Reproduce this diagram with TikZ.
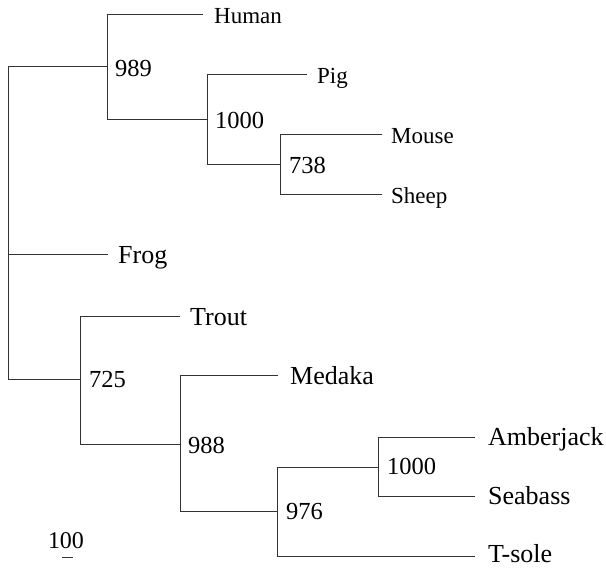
\documentclass[tikz,border=0pt]{standalone}
\usepackage{fontspec}
\setmainfont{Liberation Serif}
\begin{document}
\begin{tikzpicture}[x=1pt,y=-1pt,
  branch/.style={draw=black!80,line width=0.8pt},
  mam/.style={anchor=base west,inner sep=0pt,font=\fontsize{23}{26}\selectfont},
  fish/.style={anchor=base west,inner sep=0pt,font=\fontsize{26}{30}\selectfont},
  boot/.style={anchor=base west,inner sep=0pt,font=\fontsize{24.5}{28}\selectfont},
  scaletext/.style={anchor=base,inner sep=0pt,font=\fontsize{24}{28}\selectfont}]
\useasboundingbox (0,0) rectangle (606,568);
% internal nodes
\coordinate (root) at (8,254);
\coordinate (n989) at (107,66);
\coordinate (n1000a) at (207,119);
\coordinate (n738) at (280,164);
\coordinate (n725) at (80,379);
\coordinate (n988) at (180,444);
\coordinate (n976) at (277,511);
\coordinate (n1000b) at (378,467);
% leaf tips
\coordinate (thu) at (203,14);
\coordinate (tpi) at (307,74);
\coordinate (tmo) at (382,134);
\coordinate (tsh) at (382,194);
\coordinate (tfr) at (108,254);
\coordinate (ttr) at (180,316);
\coordinate (tme) at (278,375);
\coordinate (tam) at (475,437);
\coordinate (tse) at (475,496);
\coordinate (tts) at (475,556);
% branches
\draw[branch] (n989) -| (root);
\draw[branch] (n725) -| (root);
\draw[branch] (tfr) -- (root);
\draw[branch] (thu) -| (n989);
\draw[branch] (n1000a) -| (n989);
\draw[branch] (tpi) -| (n1000a);
\draw[branch] (n738) -| (n1000a);
\draw[branch] (tmo) -| (n738);
\draw[branch] (tsh) -| (n738);
\draw[branch] (ttr) -| (n725);
\draw[branch] (n988) -| (n725);
\draw[branch] (tme) -| (n988);
\draw[branch] (n976) -| (n988);
\draw[branch] (n1000b) -| (n976);
\draw[branch] (tts) -| (n976);
\draw[branch] (tam) -| (n1000b);
\draw[branch] (tse) -| (n1000b);
% leaf labels
\node[mam] (lhu) at (214,23) {Human};
\node[mam] (lpi) at (317,83) {Pig};
\node[mam] (lmo) at (391,143) {Mouse};
\node[mam] (lsh) at (391,203) {Sheep};
\node[fish] (lfr) at (118,263) {Frog};
\node[fish] (ltr) at (190,325) {Trout};
\node[fish] (lme) at (290,384) {Medaka};
\node[fish] (lam) at (488,445) {Amberjack};
\node[fish] (lse) at (488,504) {Seabass};
\node[fish] (lts) at (488,562) {T-sole};
% bootstrap values
\node[boot] (b989) at (115,76) {989};
\node[boot] (b1000a) at (215,128) {1000};
\node[boot] (b738) at (289,173) {738};
\node[boot] (b725) at (89,387) {725};
\node[boot] (b988) at (188,453) {988};
\node[boot] (b976) at (286,519) {976};
\node[boot] (b1000b) at (387,474) {1000};
% scale
\node[scaletext] (sc) at (66,548) {100};
\coordinate (sca) at (62,557);
\coordinate (scb) at (73,557);
\draw[branch] (sca) -- (scb);
\end{tikzpicture}
\end{document}
